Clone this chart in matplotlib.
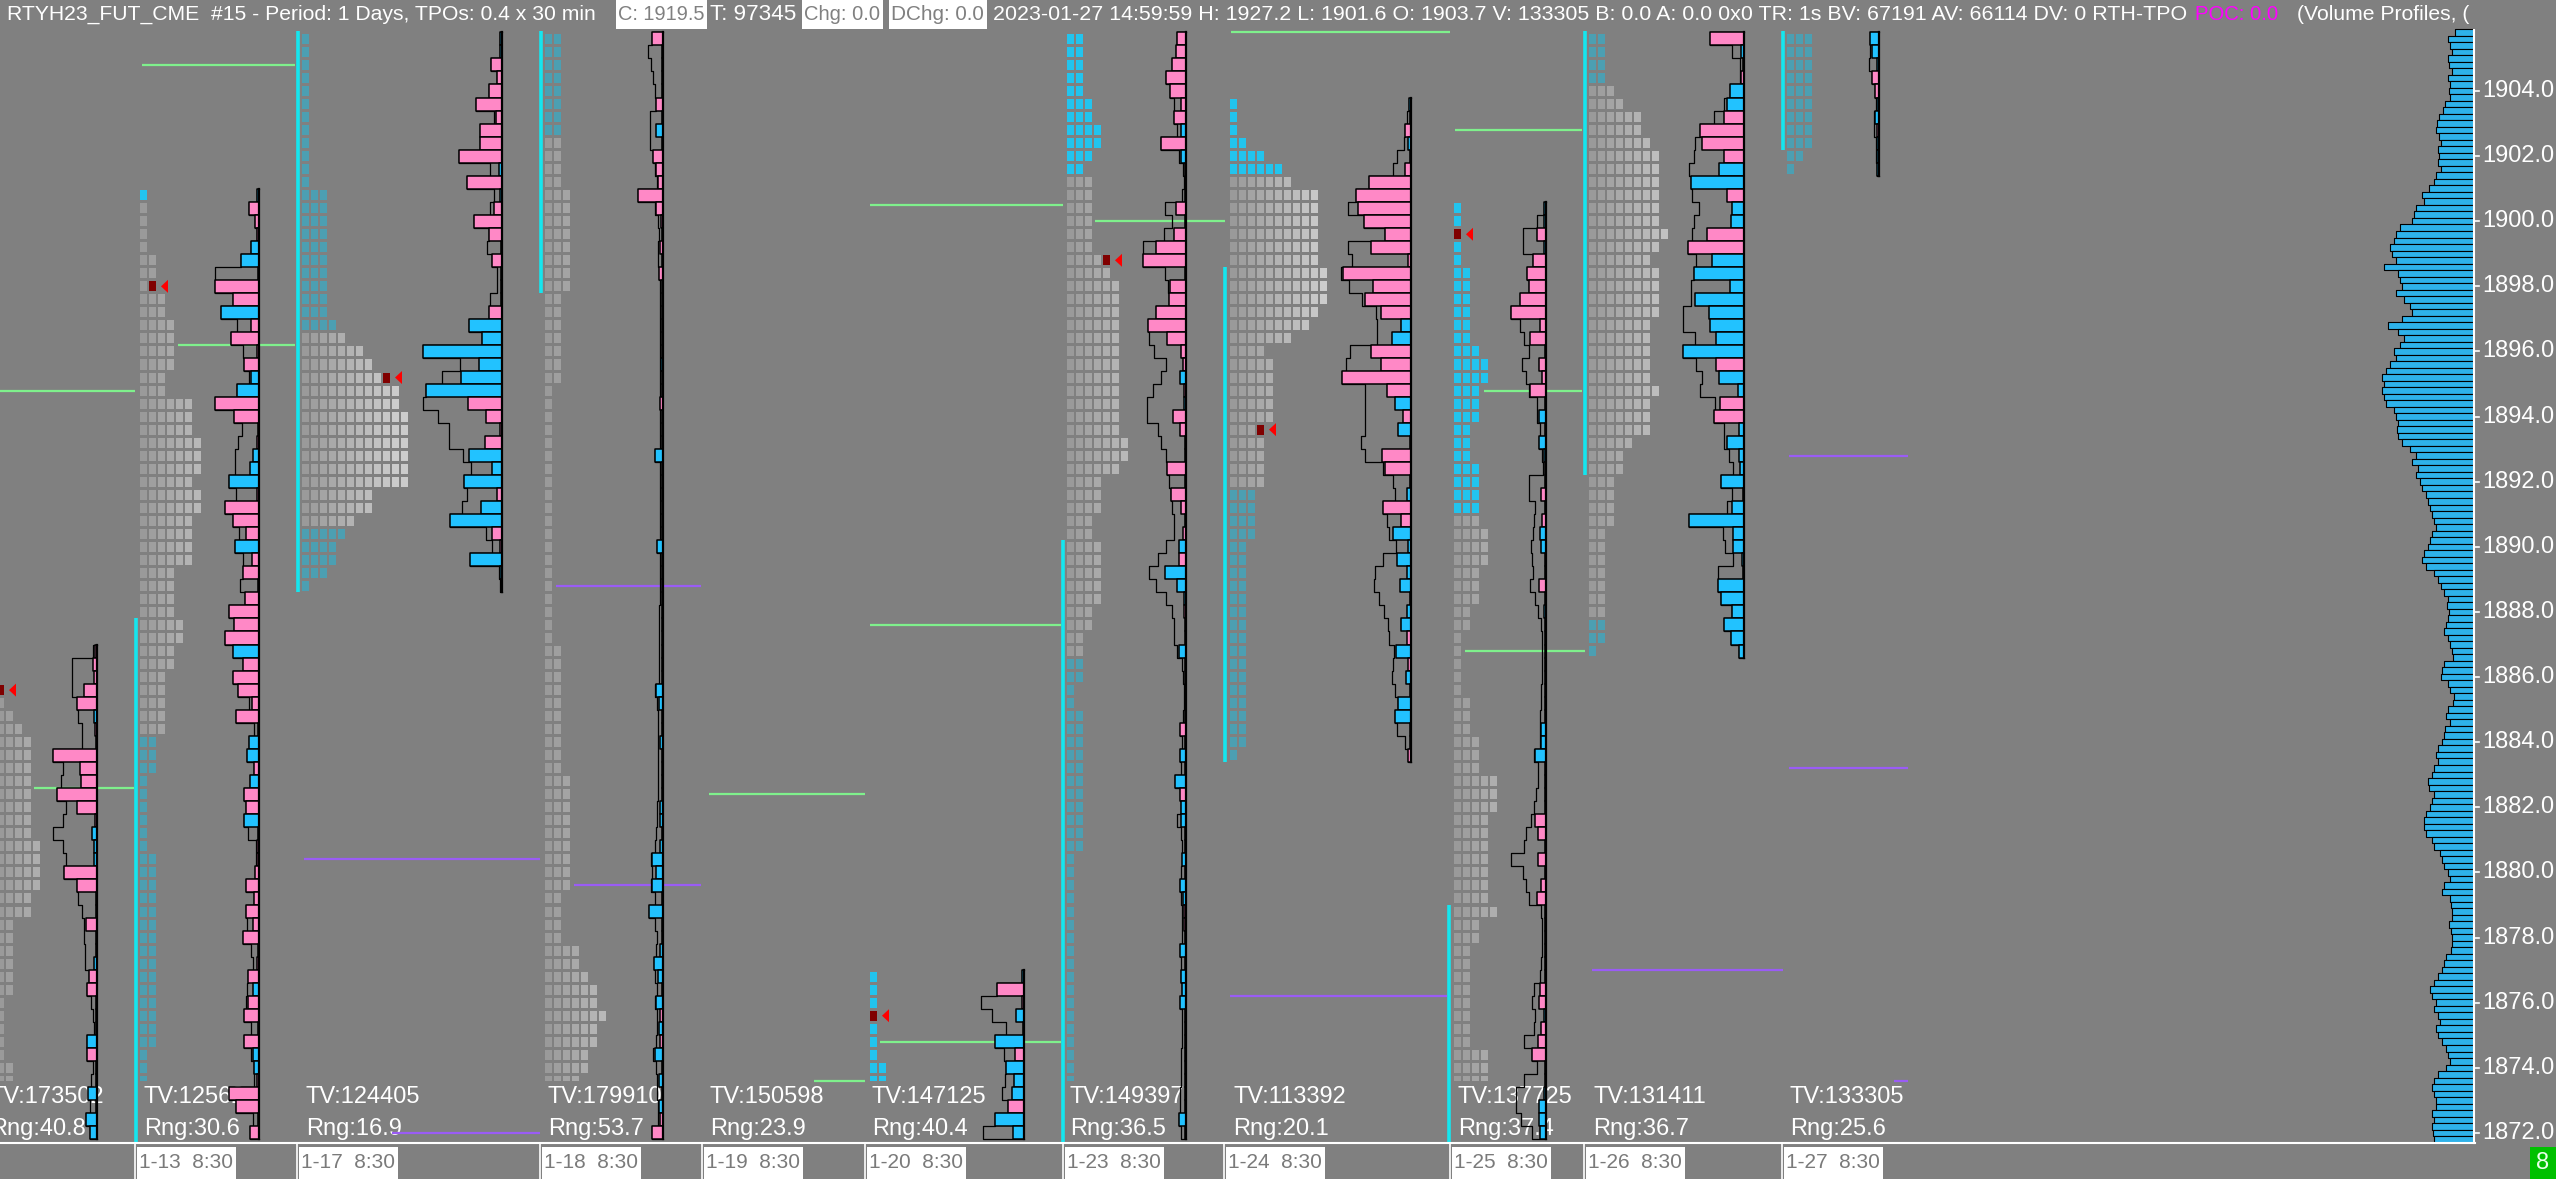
import matplotlib
matplotlib.use('Agg')
import matplotlib.pyplot as plt
from matplotlib.patches import Rectangle, Polygon
from matplotlib.collections import PatchCollection

plt.rcParams['font.family'] = ['Liberation Sans Narrow', 'Liberation Sans', 'DejaVu Sans']

# ======================= DATA =======================
days = ['1-12', '1-13', '1-17', '1-18', '1-19', '1-20', '1-23', '1-24', '1-25', '1-26', '1-27']
tv_text = ['173502', '12562', '124405', '179910', '150598', '147125', '149397', '113392', '137725', '131411', '133305']
rng_values = [40.8, 30.6, 16.9, 53.7, 23.9, 40.4, 36.5, 20.1, 37.4, 36.7, 25.6]
date_labels = ['1-13  8:30', '1-17  8:30', '1-18  8:30', '1-19  8:30', '1-20  8:30',
               '1-23  8:30', '1-24  8:30', '1-25  8:30', '1-26  8:30', '1-27  8:30']
price_ticks = [1872.0, 1874.0, 1876.0, 1878.0, 1880.0, 1882.0, 1884.0, 1886.0,
               1888.0, 1890.0, 1892.0, 1894.0, 1896.0, 1898.0, 1900.0, 1902.0, 1904.0]

# TPO profiles: top row price, TPO count per 0.4 row (top -> bottom), zone per row
tpo_top = {'1-12': 1885.6, '1-13': 1900.8, '1-17': 1905.6, '1-18': 1905.6, '1-20': 1876.8,
           '1-23': 1905.6, '1-24': 1903.6, '1-25': 1900.4, '1-26': 1905.6, '1-27': 1905.6}
tpo_0112 = [1, 1, 2, 3, 4, 4, 4, 4, 4, 4, 4, 4, 5, 5, 5, 5, 4, 4, 2, 2, 2, 2, 2, 2, 1, 1, 1, 1, 1, 2, 2, 2, 2, 2, 2]
tpo_0113 = ([1, 1, 1, 1, 1, 2, 2, 2, 3, 3, 4, 4, 4, 4, 3, 3, 6, 6, 6, 7, 7, 7, 6, 7, 7, 6, 6, 6, 6, 4, 4, 4]
            + [4, 5, 5, 4, 4, 3, 3, 3, 3, 3] + [2] * 3 + [1] * 6 + [2] * 15 + [1] * 7)
tpo_0117 = [1] * 12 + [3] * 10 + [4] + [5, 7, 8, 10, 11, 11, 12, 12, 12, 12, 12, 12, 8, 8, 6] + [5, 4, 4, 3, 1]
tpo_0118 = ([2] * 8 + [2] * 4 + [3] * 8 + [2] * 7 + [1] * 15 + [1] * 5 + [2] * 10 + [3] * 9 + [2] * 4
            + [4, 4, 5, 6, 6, 7, 6, 6, 5, 5, 4] + [4, 4, 3, 3])
tpo_0120 = [1, 1, 1, 1, 1, 1, 1, 2, 2, 2, 2, 2, 2]
tpo_0123 = ([2] * 5 + [3, 3, 4, 4, 3, 2] + [3] * 6 + [5, 5] + [6] * 12 + [7, 7, 6, 4, 4, 4, 3, 3, 4, 4, 4]
            + [4, 4, 3, 3, 2, 2, 2, 2, 1, 1] + [2] * 11 + [1] * 22)
tpo_0124 = ([1, 1, 1, 2, 4, 6] + [7, 10, 10, 10, 10, 10, 10, 11, 11, 11, 10, 9, 7, 4, 5, 5, 5, 5, 5, 4, 4, 4, 4, 4]
            + [3, 3, 3, 3, 2, 2, 2] + [2] * 13 + [1])
tpo_0125 = ([1] * 5 + [2] * 6 + [3, 4, 4, 3, 3, 3, 2, 2, 2, 3, 3, 3, 3] + [3, 4, 4, 4, 3, 3, 3, 2, 2]
            + [1] * 5 + [2] * 3 + [3] * 3 + [5] * 3 + [4] * 7 + [5, 3, 3] + [2] * 8 + [4] * 7)
tpo_0126 = ([2, 2, 2, 2, 3, 4, 6, 6, 7] + [8] * 6 + [9, 8, 7] + [8] * 4 + [7] * 5 + [8] + [7] * 3
            + [5, 4, 4, 3, 3, 3, 3] + [2] * 7 + [2, 2, 1])
tpo_0127 = [3] * 9 + [2, 1]
tpo_counts = {'1-12': tpo_0112, '1-13': tpo_0113, '1-17': tpo_0117, '1-18': tpo_0118, '1-20': tpo_0120,
              '1-23': tpo_0123, '1-24': tpo_0124, '1-25': tpo_0125, '1-26': tpo_0126, '1-27': tpo_0127}
# g = value area (gray), t = outside (teal), c = bright cyan periods
tpo_zones = {'1-12': 'g' * 35, '1-13': 'c' + 'g' * 41 + 't' * 31, '1-17': 't' * 23 + 'g' * 15 + 't' * 5,
             '1-18': 't' * 8 + 'g' * 77, '1-20': 'c' * 13, '1-23': 'c' * 11 + 'g' * 37 + 't' * 37,
             '1-24': 'c' * 6 + 'g' * 24 + 't' * 21, '1-25': 'c' * 24 + 'g' * 48,
             '1-26': 't' * 4 + 'g' * 41 + 't' * 3, '1-27': 't' * 11}
open_price = {'1-12': 1885.6, '1-13': 1898.0, '1-17': 1895.2, '1-20': 1875.6,
              '1-23': 1898.8, '1-24': 1893.6, '1-25': 1899.6}

# Delta (signed) and volume per 0.4 row, top row price
delta_top = {'1-12': 1886.8, '1-13': 1900.8, '1-17': 1905.6, '1-18': 1905.6, '1-20': 1876.8,
             '1-23': 1905.6, '1-24': 1903.6, '1-25': 1900.4, '1-26': 1905.6, '1-27': 1905.6}
delta_0112 = [3, 8, 5, 25, 38, -5, 3, 1, 83, 33, 31, 75, 38, 3, -10, -5, -5, 63, 38, 2, 2, 21, 2, 2, -5,
              15, 18, 2, 2, 2, -18, 18, 2, 2, -17, 2, -20, -13]
vol_0112 = [8, 48, 48, 48, 38, 35, 28, 28, 83, 65, 68, 75, 58, 65, 83, 65, 58, 63, 38, 35, 28, 25, 25, 23, 23,
            15, 18, 11, 8, 5, 18, 18, 8, 11, 17, 13, 20, 13]
delta_0113 = [-4, 19, 7, 3, -15, -34, 2, 83, 50, -72, 15, 53, 3, 28, -15, -41, 83, 47, 2, 3, -12, -17, -56, 3,
              64, 50, 24, -45, 13, 30, 2, 27, 57, 47, 64, -50, 30, 50, 39, 13, 43, 2, -19, -22, 10, -17, 28, 25,
              -28, 2, 3, 3, 8, 24, 10, 25, 12, 31, 2, 3, 21, -12, 21, 28, 2, 29, -12, -9, 3, 57, 43, 2, 17]
vol_0113 = [4, 19, 7, 4, 15, 34, 83, 83, 50, 72, 41, 53, 30, 28, 18, 41, 83, 47, 32, 40, 45, 45, 56, 43,
            64, 50, 38, 45, 30, 30, 35, 27, 57, 47, 64, 50, 30, 50, 39, 18, 43, 10, 19, 22, 10, 17, 28, 25,
            28, 20, 5, 5, 8, 24, 10, 25, 22, 31, 15, 12, 21, 23, 24, 28, 15, 29, 15, 9, 9, 57, 43, 12, 17]
delta_0117 = [-3, -3, 21, 10, 25, 50, 11, 42, 42, 82, -6, 67, -3, 16, 53, 25, 2, 18, -2, 2, -2, 25, -63, -37,
              -150, -44, -78, -143, 65, 31, 3, 33, -63, -19, -72, 10, -40, -99, 19, 3, -61, -3, 2]
vol_0117 = [3, 3, 21, 10, 25, 50, 15, 42, 42, 82, 22, 67, 16, 22, 53, 25, 29, 18, 10, 10, 22, 25, 63, 37,
            150, 80, 113, 143, 150, 120, 100, 100, 73, 58, 72, 66, 76, 99, 30, 18, 61, 5, 3]
delta_0118 = [20, 2, 2, 2, 2, 13, 2, -13, 2, 18, 13, 9, 47, 13, 3, 2, 5, -2, 7, 2,
              2, 2, 2, 2, 2, -3, 2, 2, 5, 2, 2, 2, -15, 2, 2, 2, 2, 2, 2, -12,
              2, 2, 2, 2, 2, 2, 2, 2, 2, 2, -13, -8, 2, 2, -6, 2, 2, 2, 2, -6,
              -6, 2, -6, -20, -14, -20, 2, -27, 2, 2, -6, -17, -10, 2, -13, 5, -8, 5, -15, 2,
              -8, 2, -8, 5, 21]
vol_0118 = [20, 28, 23, 18, 16, 13, 25, 25, 25, 18, 15, 12, 47, 15, 10, 7, 10, 10, 8, 5,
            5, 5, 5, 5, 5, 5, 5, 5, 6, 5, 5, 5, 15, 6, 6, 6, 6, 6, 6, 12,
            6, 6, 6, 6, 8, 8, 8, 8, 8, 8, 15, 12, 10, 10, 10, 10, 10, 10, 10, 12,
            12, 14, 15, 22, 20, 22, 15, 27, 15, 12, 14, 17, 15, 12, 15, 12, 12, 14, 18, 14,
            12, 12, 10, 10, 21]
delta_0120 = [-3, 51, 3, -15, 2, -54, 17, -34, -19, -23, 30, -54, -20]
vol_0120 = [3, 51, 81, 61, 34, 54, 38, 34, 36, 41, 30, 54, 78]
delta_0123 = [17, 19, 27, 37, 30, 9, 22, -9, 47, -9, 2, 2, 2, 19, 2, 22, 57, 82, -2, 30,
              32, 56, 72, 35, 9, 5, -11, 3, -3, 24, 11, 2, 2, 35, 2, 28, 9, 2, 6, -13,
              13, -39, -17, -3, 4, 2, 2, -14, 2, 2, 2, 2, 2, 12, 2, -12, 2, -20, 11, -10,
              -10, 2, 2, -8, 2, -12, -6, 4, 4, 2, -11, 2, -10, -8, -12, 2, 2, 2, 2, 2,
              2, 2, 2, -14, 2]
vol_0123 = [17, 19, 27, 37, 30, 22, 22, 17, 47, 14, 6, 4, 7, 40, 27, 42, 82, 82, 39, 34,
            32, 56, 72, 70, 60, 37, 47, 62, 74, 74, 52, 47, 37, 35, 32, 28, 27, 22, 22, 37,
            52, 70, 57, 37, 27, 22, 22, 17, 8, 6, 4, 4, 6, 12, 8, 12, 10, 20, 11, 10,
            17, 10, 8, 8, 10, 12, 10, 8, 8, 8, 11, 10, 10, 8, 12, 8, 8, 8, 10, 10,
            10, 12, 12, 14, 10]
delta_0124 = [-4, 2, 12, -6, 2, 12, 80, 104, 101, 89, 50, 76, 6, 129, 72, 86, 57, -19, -36, 76,
              57, 131, 46, -30, 16, -24, 2, 54, 50, 2, -8, 53, 18, -34, -6, -26, -8, -21, 2, -8,
              -19, 8, -29, 6, -9, 2, -25, -30, 2, 2, 6]
vol_0124 = [4, 8, 12, 13, 26, 34, 80, 104, 119, 89, 50, 119, 111, 133, 118, 93, 66, 64, 64, 116,
            123, 131, 86, 86, 86, 86, 94, 86, 52, 34, 30, 53, 46, 41, 28, 52, 68, 69, 61, 51,
            44, 41, 33, 34, 36, 31, 25, 30, 26, 11, 6]
delta_0125 = [-3, -3, 17, -3, 24, 35, 32, 50, 66, 11, 30, 2, 13, 8, 30, 2, -14, 2, -14, -4,
              2, 2, 9, 2, 7, -12, -9, 2, 2, 14, 2, -4, 2, 2, 2, 2, 2, 2, 2, 2,
              -10, -10, -20, 2, 2, 2, 2, 20, 15, 2, 15, 2, 9, 17, 2, 2, 2, 2, 2, 2,
              12, 14, -4, 10, 15, 27, 2, 2, -3, -14, -14, -12]
vol_0125 = [3, 17, 44, 44, 24, 35, 32, 50, 66, 49, 42, 32, 45, 37, 32, 17, 17, 12, 14, 7,
            6, 32, 32, 20, 22, 24, 29, 27, 24, 30, 20, 15, 10, 8, 8, 8, 8, 10, 10, 12,
            12, 12, 22, 15, 15, 18, 22, 29, 37, 42, 67, 44, 37, 32, 10, 8, 8, 8, 10, 12,
            22, 27, 20, 22, 42, 27, 17, 42, 57, 57, 47, 27]
delta_0126 = [65, -5, 2, 5, -27, -33, 38, 84, 80, 38, -48, -101, 33, -22, -24, 69, 106, -60, -95, -27,
              -92, -67, -65, -53, -116, 52, -48, -12, 45, 56, -10, -33, -10, -8, -43, 2, -22, -103, -20, -20,
              -4, 2, -50, -43, -22, -38, -24, -10]
vol_0126 = [65, 23, 8, 8, 27, 38, 57, 84, 93, 95, 103, 101, 98, 85, 95, 98, 106, 90, 95, 100,
            100, 115, 115, 93, 116, 90, 80, 83, 55, 56, 37, 38, 28, 20, 43, 22, 33, 103, 40, 35,
            20, 50, 50, 43, 22, 38, 24, 10]
delta_0127 = [-17, -14, -4, 13, 7, -3, -7, 3, -3, -3, -3]
vol_0127 = [17, 17, 19, 13, 7, 5, 10, 10, 5, 5, 4]
delta_vals = {'1-12': delta_0112, '1-13': delta_0113, '1-17': delta_0117, '1-18': delta_0118,
              '1-20': delta_0120, '1-23': delta_0123, '1-24': delta_0124, '1-25': delta_0125,
              '1-26': delta_0126, '1-27': delta_0127}
vol_vals = {'1-12': vol_0112, '1-13': vol_0113, '1-17': vol_0117, '1-18': vol_0118,
            '1-20': vol_0120, '1-23': vol_0123, '1-24': vol_0124, '1-25': vol_0125,
            '1-26': vol_0126, '1-27': vol_0127}

# composite volume profile (right side), 0.2 rows from 1905.8 downward
comp_top = 1905.8
comp_vol = [19, 26, 24, 22, 26, 25, 22, 26, 24, 25, 24, 29, 31, 35, 37, 38, 35, 33, 36, 35,
            36, 33, 38, 40, 45, 52, 50, 58, 60, 62, 74, 78, 80, 84, 82, 78, 90, 76, 74, 72,
            78, 70, 64, 62, 72, 86, 76, 70, 74, 80, 78, 84, 88, 92, 90, 92, 90, 88, 80, 78,
            76, 77, 76, 72, 64, 58, 62, 56, 58, 54, 52, 48, 46, 44, 42, 40, 38, 42, 44, 46,
            50, 52, 48, 40, 36, 33, 30, 26, 27, 25, 26, 28, 30, 26, 24, 22, 21, 30, 32, 33,
            26, 24, 20, 21, 26, 28, 24, 29, 30, 32, 36, 38, 36, 40, 42, 46, 45, 40, 42, 44,
            48, 50, 50, 48, 42, 40, 34, 32, 30, 26, 24, 30, 32, 24, 23, 22, 22, 25, 23, 22,
            22, 23, 28, 30, 32, 36, 40, 44, 42, 38, 40, 36, 34, 38, 36, 32, 28, 26, 24, 28,
            36, 40, 42, 40, 38, 38, 42, 40, 42, 41, 40]

# reference price lines
green_levels = [1905.8, 1904.8, 1902.8, 1900.5, 1900.0, 1896.2, 1894.8, 1894.8, 1887.6, 1886.8,
                1882.6, 1882.4, 1874.8, 1873.6]
purple_levels = [1892.8, 1888.8, 1883.2, 1880.4, 1879.6, 1877.0, 1876.2, 1873.6, 1872.0]
# range lines (cyan) per day: high, low  (None = beyond chart edge)
cyan_hi = {'1-13': 1887.8, '1-17': None, '1-18': None, '1-23': 1890.2, '1-24': 1898.6,
           '1-25': 1879.0, '1-26': None, '1-27': None}
cyan_lo = {'1-13': None, '1-17': 1888.6, '1-18': 1897.8, '1-23': None, '1-24': 1883.4,
           '1-25': None, '1-26': 1892.2, '1-27': 1902.2}

# ======================= LAYOUT (pixels) =======================
W, H = 2556, 1179
PX = 32.56                      # pixels per price point
P_TOP = 1904 + 91 / PX
P_BOT = 1904 - (1143 - 91) / PX
PLOT_R = 2475
seps = [135, 297, 540, 702, 865, 1063, 1224, 1450, 1584, 1782]
tpo_x0 = {'1-12': -3, '1-13': 140, '1-17': 302, '1-18': 545, '1-20': 870, '1-23': 1067,
          '1-24': 1230, '1-25': 1454, '1-26': 1589, '1-27': 1787}
delta_xb = {'1-12': 97, '1-13': 259, '1-17': 502, '1-18': 663, '1-20': 1024, '1-23': 1186,
            '1-24': 1411, '1-25': 1546, '1-26': 1744, '1-27': 1879}
tv_x = [-10, 144, 306, 548, 710, 872, 1070, 1233, 1458, 1593, 1790]
cyan_x = {'1-13': 136, '1-17': 298, '1-18': 541, '1-23': 1063, '1-24': 1225, '1-25': 1449,
          '1-26': 1585, '1-27': 1783}
green_x = [(1231, 1450), (142, 295), (1455, 1582), (870, 1063), (1095, 1225), (178, 295), (0, 135),
           (1484, 1582), (870, 1061), (1465, 1585), (34, 134), (709, 865), (880, 1061), (814, 865)]
purple_x = [(1789, 1908), (556, 701), (1789, 1908), (304, 540), (574, 701), (1592, 1783),
            (1230, 1447), (1894, 1908), (392, 540)]

BG = '#808080'
PINK = '#ff88c6'
BLUE = '#22c2ff'
TEAL = '#4c9fb2'
CYAN = '#22c4ee'
CYAN_LINE = '#14e6ef'
GREEN = '#7ff08c'
PURPLE = '#9a5cf5'
DS = 1 / 1.889                  # delta width scale


def py(fy):
    return 1904 - (fy - 91) / PX


fig = plt.figure(figsize=(W / 100, H / 100), dpi=100)
fig.patch.set_facecolor(BG)
ax = fig.add_axes([0, (H - 1143) / H, PLOT_R / W, 1143 / H])
ax.set_facecolor(BG)
ax.set_xlim(0, PLOT_R)
ax.set_ylim(P_BOT, P_TOP)
ax.axis('off')
renderer = fig.canvas.get_renderer()


def fit(t, target):
    w = t.get_window_extent(renderer).width
    t.set_fontsize(t.get_fontsize() * target / w)
    return t.get_fontsize()


RH = 0.4  # row height

# ---------- TPO squares ----------
rects, cols = [], []
tri = []
for d in tpo_counts:
    x0, top = tpo_x0[d], tpo_top[d]
    mk = None
    if d in open_price:
        mk = int(round((top - open_price[d]) / RH))
    for i, (n, z) in enumerate(zip(tpo_counts[d], tpo_zones[d])):
        p = top - RH * i
        for c in range(n):
            if mk is not None and i == mk and c == n - 1:
                col = '#800000'
            elif z == 'g':
                v = min(0x9a + 5 * c, 0xcc)
                col = '#%02x%02x%02x' % (v, v, v)
            elif z == 't':
                col = TEAL
            else:
                col = CYAN
            rects.append(Rectangle((x0 + 9 * c, p - RH * 5 / 13), 7, RH * 10 / 13))
            cols.append(col)
        if mk is not None and i == mk:
            xr = x0 + 9 * (n - 1) + 7
            tri.append(Polygon([(xr + 5, p), (xr + 12, p + RH * 6.5 / 13), (xr + 12, p - RH * 6.5 / 13)],
                               closed=True))
ax.add_collection(PatchCollection(rects, facecolors=cols, edgecolors='none', zorder=2))
ax.add_collection(PatchCollection(tri, facecolors='#ff0000', edgecolors='none', zorder=2))

# ---------- TV / Rng labels ----------
for i, d in enumerate(days):
    for txt, fy in (('TV:' + tv_text[i], 1097), ('Rng:%.1f' % rng_values[i], 1128.5)):
        ax.text(tv_x[i], py(fy), txt, color='white', fontsize=17, ha='left', va='center', zorder=3,
                bbox=dict(boxstyle='square,pad=0.2', fc=BG, ec='none'))

# ---------- reference lines ----------
for lvl, (a, b) in zip(green_levels, green_x):
    ax.plot([a, b], [lvl, lvl], color=GREEN, lw=1.6, zorder=4, solid_capstyle='butt')
for lvl, (a, b) in zip(purple_levels, purple_x):
    ax.plot([a, b], [lvl, lvl], color=PURPLE, lw=1.6, zorder=4, solid_capstyle='butt')
for d in cyan_x:
    hi = cyan_hi[d] if cyan_hi[d] is not None else py(31)
    lo = cyan_lo[d] if cyan_lo[d] is not None else P_BOT
    ax.plot([cyan_x[d], cyan_x[d]], [lo, hi], color=CYAN_LINE, lw=2.6, zorder=4, solid_capstyle='butt')

# ---------- delta / volume profiles ----------
for d in delta_vals:
    xb, top = delta_xb[d], delta_top[d]
    dv, vv = delta_vals[d], vol_vals[d]
    n = len(dv)
    bot = top - RH * (n - 1)
    xs, ys = [xb], [top + RH / 2]
    for i, v in enumerate(vv):
        p = top - RH * i
        xs += [xb - v * DS, xb - v * DS]
        ys += [p + RH / 2, p - RH / 2]
    xs.append(xb)
    ys.append(bot - RH / 2)
    ax.plot(xs, ys, color='black', lw=0.9, zorder=5)
    brs, bcs = [], []
    for i, v in enumerate(dv):
        p = top - RH * i
        w = abs(v) * DS
        brs.append(Rectangle((xb - w, p - RH / 2), w, RH))
        bcs.append(PINK if v > 0 else BLUE)
    ax.add_collection(PatchCollection(brs, facecolors=bcs, edgecolors='black', linewidths=1.1, zorder=6))
    ax.plot([xb, xb], [bot - RH / 2, top + RH / 2], color='black', lw=1.6, zorder=7)

# ---------- composite volume profile ----------
crs = []
for i, v in enumerate(comp_vol):
    p = comp_top - 0.2 * i
    crs.append(Rectangle((PLOT_R - 1 - v, p - 0.1), v, 0.2))
ax.add_collection(PatchCollection(crs, facecolors='#2eb2ea', edgecolors='black', linewidths=0.8, zorder=6))

# ---------- axes frame ----------
ax.plot([PLOT_R - 1, PLOT_R - 1], [P_BOT, py(30)], color='white', lw=1.5, zorder=8, clip_on=False)
ax.plot([0, PLOT_R], [P_BOT, P_BOT], color='white', lw=1.5, zorder=8, clip_on=False)
for t in price_ticks:
    ax.plot([PLOT_R - 1, PLOT_R + 4], [t, t], color='white', lw=1.2, clip_on=False, zorder=8)
    ax.text(PLOT_R + 7, t, '%.1f' % t, color='white', fontsize=17, ha='left', va='center', clip_on=False)

# date strip
date_fs = None
for sx, lab in zip(seps, date_labels):
    ax.plot([sx, sx], [P_BOT, py(1179)], color='white', lw=1.2, clip_on=False, zorder=8)
    ax.add_patch(Rectangle((sx + 2, py(1179)), 99, py(1147) - py(1179), fc='white', ec='none',
                           clip_on=False, zorder=8))
    t = ax.text(sx + 4, py(1163), lab, color='#7a7a7a', fontsize=16.5 if date_fs is None else date_fs,
                ha='left', va='center', clip_on=False, zorder=9)
    if date_fs is None:
        date_fs = fit(t, 94)

# green status box
fig.patches.append(Rectangle((2530 / W, 0), 26 / W, 32 / H, transform=fig.transFigure,
                             fc='#00c000', ec='none', zorder=10))
fig.text(2543 / W, 16 / H, '8', color='#e8ffe8', fontsize=17, ha='center', va='center', zorder=11)

# ---------- header ----------
hy = py(14)
t = ax.text(7, hy, 'RTYH23_FUT_CME  #15 - Period: 1 Days, TPOs: 0.4 x 30 min', color='white',
            fontsize=19, ha='left', va='center', zorder=10)
hfs = fit(t, 590)
for (a, b), txt in (((616, 707), 'C: 1919.5'), ((802, 883), 'Chg: 0.0'), ((889, 987), 'DChg: 0.0')):
    ax.add_patch(Rectangle((a, py(29)), b - a, py(0) - py(29), fc='white', ec='none', zorder=9))
    tb = ax.text(a + 2, hy, txt, color='#808080', fontsize=hfs, ha='left', va='center', zorder=10)
    fit(tb, b - a - 5)
t = ax.text(710, hy, 'T: 97345', color='white', fontsize=hfs, ha='left', va='center', zorder=10)
fit(t, 86)
t = ax.text(993, hy, '2023-01-27 14:59:59 H: 1927.2 L: 1901.6 O: 1903.7 V: 133305 B: 0.0 A: 0.0 0x0 '
            'TR: 1s BV: 67191 AV: 66114 DV: 0 RTH-TPO', color='white', fontsize=hfs, ha='left',
            va='center', zorder=10)
fit(t, 1188)
t = ax.text(2195, hy, 'POC: 0.0', color='#ff00ff', fontsize=hfs, ha='left', va='center', zorder=10)
fit(t, 83)
ax.text(2297, hy, '(Volume Profiles, (', color='white', fontsize=hfs, ha='left', va='center',
        zorder=10, clip_on=True)

fig.savefig('out.png', dpi=100, facecolor=BG)
